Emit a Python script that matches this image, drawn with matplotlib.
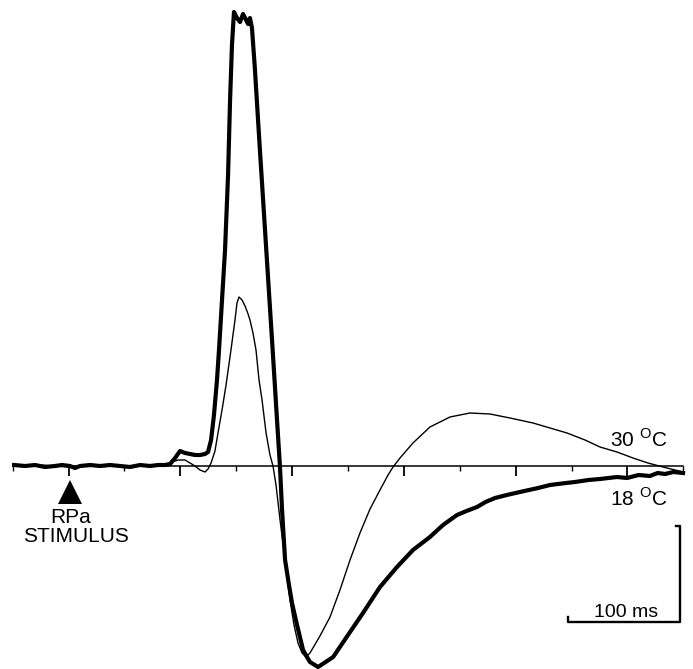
import matplotlib
matplotlib.use("Agg")
import matplotlib.pyplot as plt

plt.rcParams['font.family'] = ['Liberation Sans', 'DejaVu Sans']
plt.rcParams['mathtext.fontset'] = 'custom'
plt.rcParams['mathtext.rm'] = 'Liberation Sans'

# time (ms after RPa stimulus) and response amplitude (arbitrary units)
t_18 = [-48.7, -38.9, -30.0, -21.0, -12.1, -5.8, 1.3, 5.8, 10.3, 19.2, 28.2, 37.1, 46.1,
        55.0, 64.0, 72.9, 80.1, 86.3, 90.8, 95.3, 99.7, 104.2, 108.7, 113.1, 117.6, 122.1,
        124.8, 127.5, 130.1, 132.8, 134.6, 137.3, 140.0, 142.7, 144.5, 146.2, 148.0, 150.7,
        153.4, 156.1, 158.8, 160.6, 162.3, 164.1, 166.6, 171.2, 176.9, 182.6, 186.5, 189.1,
        191.0, 193.7, 197.2, 199.9, 204.4, 209.8, 213.3, 216.0, 223.2, 230.0, 236.7, 250.0,
        263.4, 278.6, 293.8, 308.1, 323.3, 335.0, 347.5, 356.0, 365.4, 373.0, 381.5, 392.0,
        403.8, 420.0, 430.7, 445.0, 453.0, 465.0, 475.4, 490.6, 499.6, 510.0, 520.1,
        527.0, 533.6, 541.0, 549.7]
amp_18 = [1, 0, 1, -1, 0, 1, 0, -2, 0, 1, 0, 1, 0,
          -1, 1, 0, 1, 1, 2, 8, 15, 13, 12, 11, 11, 12,
          14, 26, 51, 86, 116, 166, 216, 291, 366, 421, 454, 448,
          444, 452, 446, 442, 448, 438, 399, 316, 216, 116, 46, 0,
          -44, -94, -119, -137, -159, -184, -191, -196, -201, -196, -191, -169,
          -147, -121, -101, -84, -71, -59, -49, -45, -41, -36, -32, -29,
          -26, -22, -19, -17, -16, -14, -13, -11, -12, -9, -10,
          -7, -8, -6, -7]

t_30 = [-48.7, -25.5, 1.3, 28.2, 55.0, 81.8, 89.0, 92.6, 97.9, 104.2, 108.7, 113.1,
        117.6, 122.1, 124.8, 127.5, 131.0, 133.7, 137.3, 140.9, 145.3, 148.9, 150.7,
        152.5, 155.2, 157.9, 160.6, 162.3, 165.0, 167.7, 170.4, 173.1, 176.7, 180.2,
        182.9, 185.6, 189.2, 193.7, 198.1, 201.7, 205.3, 208.9, 212.4, 216.0, 224.9,
        233.9, 242.8, 251.8, 260.7, 269.7, 278.6, 285.8, 290.3, 296.5, 308.1, 323.3,
        341.2, 359.1, 377.0, 394.9, 415.5, 430.7, 445.9, 462.0, 475.4, 490.6, 504.9,
        518.3, 531.8, 549.7]
amp_30 = [0, 1, -1, 0, 0, 0, 1, 4, 6, 6, 3, 0,
          -4, -6, -3, 3, 15, 33, 56, 81, 116, 146, 163,
          169, 166, 160, 152, 146, 133, 116, 86, 66, 33, 11,
          0, -19, -54, -94, -134, -159, -177, -187, -191, -187, -170,
          -151, -124, -94, -67, -43, -24, -9, -1, 8, 23, 39,
          49, 53, 52, 48, 43, 38, 33, 26, 19, 14, 8,
          3, -1, -6]

major_ticks = [0, 100, 200, 300, 400, 500]
minor_ticks = [-50, 50, 150, 250, 350, 450, 550]

fig = plt.figure(figsize=(6.93, 6.69), dpi=100)
ax = fig.add_axes([0, 0, 1, 1])
ax.set_xlim(-61.3, 558.6)
ax.set_ylim(-203, 466)
ax.axis('off')

# time axis drawn on the baseline
ax.plot([-50, 550], [0, 0], color='black', lw=1.1)
ax.vlines(major_ticks, -10, 0, color='black', lw=1.3)
ax.vlines(minor_ticks, -5, 0, color='black', lw=1.0)

ax.plot(t_30, amp_30, color='black', lw=1.0)
ax.plot(t_18, amp_18, color='black', lw=3.0, solid_joinstyle='round')

# stimulus marker
ax.plot([1.5], [-26], marker='^', ms=17, color='black', markeredgewidth=0)
ax.text(1.8, -57, 'RPa', ha='center', va='baseline', fontsize=15)
ax.text(6.3, -76, 'STIMULUS', ha='center', va='baseline', fontsize=15)

ax.text(535.4, 19, r'30 $^{\mathrm{O}}$C', ha='right', va='baseline', fontsize=15)
ax.text(535.4, -40, r'18 $^{\mathrm{O}}$C', ha='right', va='baseline', fontsize=15)

# scale bars
ax.plot([543, 547, 547, 447, 447], [-60, -60, -156, -156, -151], color='black', lw=1.7)
ax.text(498.7, -151, '100 ms', ha='center', va='baseline', fontsize=14)

fig.savefig('out.png', dpi=100)
